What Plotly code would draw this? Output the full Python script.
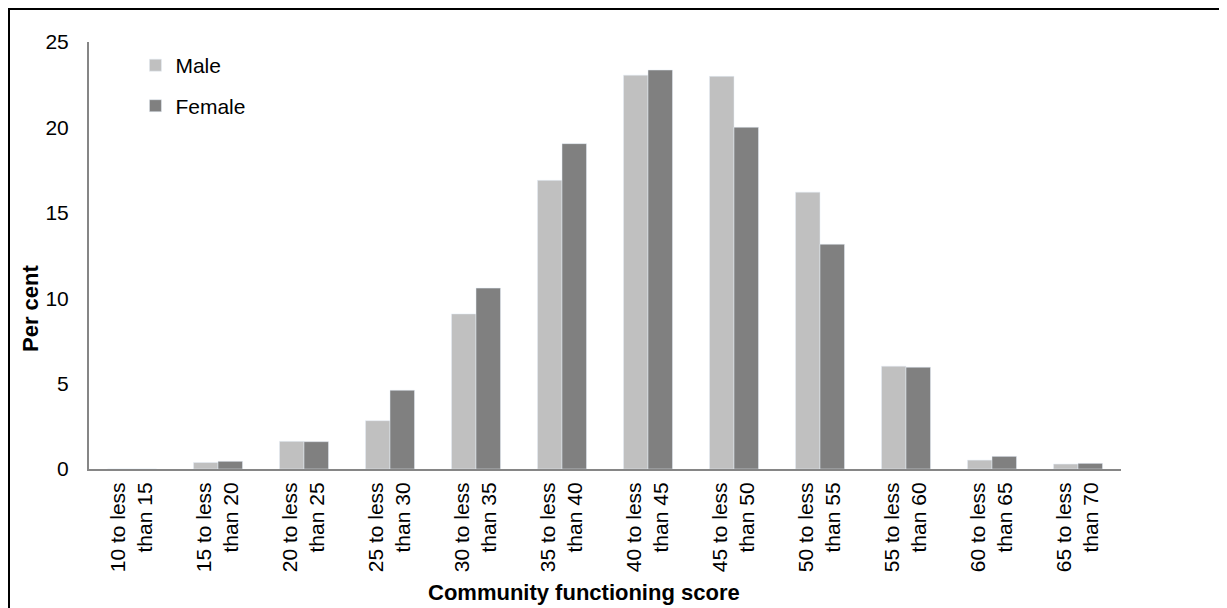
import plotly.graph_objects as go

categories = ["10 to less<br>than 15", "15 to less<br>than 20", "20 to less<br>than 25",
              "25 to less<br>than 30", "30 to less<br>than 35", "35 to less<br>than 40",
              "40 to less<br>than 45", "45 to less<br>than 50", "50 to less<br>than 55",
              "55 to less<br>than 60", "60 to less<br>than 65", "65 to less<br>than 70"]
male = [0.0, 0.38, 1.62, 2.83, 9.08, 16.9, 23.06, 22.99, 16.21, 6.02, 0.52, 0.29]
female = [0.0, 0.45, 1.60, 4.61, 10.59, 19.05, 23.36, 20.01, 13.16, 5.96, 0.74, 0.33]
y_ticks = [0, 5, 10, 15, 20, 25]

FONT = "Liberation Sans, Arial, sans-serif"

fig = go.Figure()
fig.add_trace(go.Bar(x=categories, y=male, name="Male", marker_color="#C0C0C0", legend="legend"))
fig.add_trace(go.Bar(x=categories, y=female, name="Female", marker_color="#808080", legend="legend2"))

leg_common = dict(xanchor="left", yanchor="top", bgcolor="rgba(0,0,0,0)",
                  font=dict(size=21, family=FONT), itemwidth=30)

fig.update_layout(
    width=1227, height=608,
    margin=dict(l=81, r=114, t=34, b=147),
    paper_bgcolor="white", plot_bgcolor="white",
    barmode="group", bargap=0.43, bargroupgap=0,
    font=dict(family=FONT, size=21, color="black"),
    showlegend=True,
    legend=dict(x=0.045, y=0.993, **leg_common),
    legend2=dict(x=0.045, y=0.898, **leg_common),
    shapes=[dict(type="rect", xref="paper", yref="paper",
                 x0=(1 - 81) / 1032, x1=1.3, y0=-1.0, y1=1 + (34 - 1) / 427,
                 line=dict(color="black", width=2), fillcolor="rgba(0,0,0,0)", layer="below")],
    annotations=[
        dict(text="<b>Per cent</b>", xref="paper", yref="paper", x=-0.0572, y=0.377,
             xanchor="center", yanchor="middle", textangle=-90, showarrow=False,
             font=dict(size=22, family=FONT, color="black")),
        dict(text="<b>Community functioning score</b>", xref="paper", yref="paper",
             x=0.480, y=-0.290, xanchor="center", yanchor="middle", showarrow=False,
             font=dict(size=22, family=FONT, color="black")),
    ],
)
fig.update_xaxes(
    showline=True, linecolor="#868686", linewidth=2, showgrid=False,
    tickangle=-90, ticks="", tickfont=dict(size=21), ticklabelstandoff=3,
    fixedrange=True,
)
fig.update_yaxes(
    range=[0, 25], tickvals=y_ticks, showline=True, linecolor="#868686", linewidth=2,
    showgrid=False, zeroline=False, ticks="", ticklabelstandoff=14, tickfont=dict(size=21),
    fixedrange=True,
)

fig.write_html("out.html")
